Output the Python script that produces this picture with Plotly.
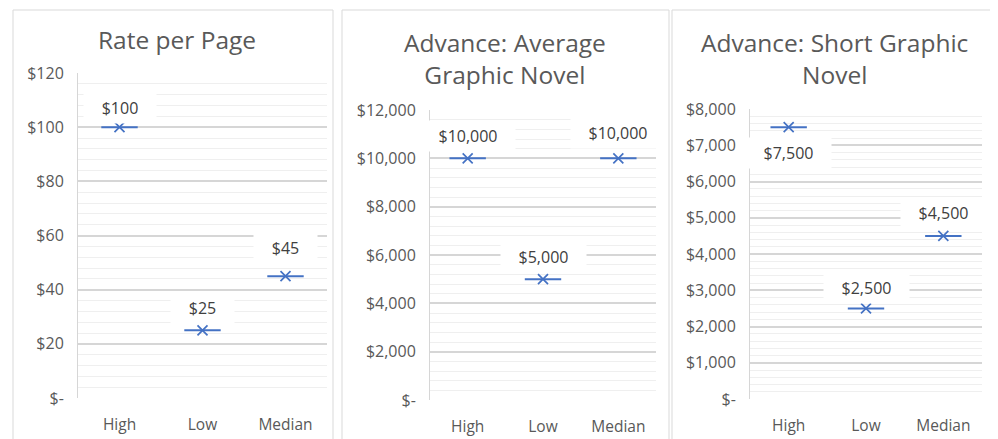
import plotly.graph_objects as go

# ---- data ----
categories = ["High", "Low", "Median"]
rate_per_page = [100, 25, 45]
advance_average = [10000, 5000, 10000]
advance_short = [7500, 2500, 4500]

rate_ticks = [0, 20, 40, 60, 80, 100, 120]
rate_ticktext = ["$-", "$20", "$40", "$60", "$80", "$100", "$120"]
avg_ticks = [0, 2000, 4000, 6000, 8000, 10000, 12000]
avg_ticktext = ["$-", "$2,000", "$4,000", "$6,000", "$8,000", "$10,000", "$12,000"]
short_ticks = [0, 1000, 2000, 3000, 4000, 5000, 6000, 7000, 8000]
short_ticktext = ["$-", "$1,000", "$2,000", "$3,000", "$4,000", "$5,000", "$6,000", "$7,000", "$8,000"]

titles = ["Rate per Page", "Advance: Average<br>Graphic Novel", "Advance: Short Graphic<br>Novel"]

# ---- style / layout ----
OFF = 8                    # default page body margin
W, H = 998 - OFF, 439 - OFF
FONT = "Open Sans"
BLUE = "#4472C4"
GRAY_TXT = "#595959"
LABEL_TXT = "#404040"
MAJOR = "#D6D6D6"
MINOR = "#EFEFEF"


def fx(px):
    return (px - OFF) / W


def fy(py):
    return 1 - (py - OFF) / H


panels = [
    dict(vals=rate_per_page, ticks=rate_ticks, tt=rate_ticktext, rng=120, minor=4,
         px=(78, 327), py=(398, 73), box=(13, 333), title_x=177, title_y=39,
         shifts=[19, 22, 28]),
    dict(vals=advance_average, ticks=avg_ticks, tt=avg_ticktext, rng=12000, minor=400,
         px=(430, 656), py=(400, 110), box=(342, 669), title_x=505, title_y=58,
         shifts=[22, 22, 25]),
    dict(vals=advance_short, ticks=short_ticks, tt=short_ticktext, rng=8000, minor=200,
         px=(750, 982), py=(399, 109), box=(672, 994), title_x=834, title_y=58,
         shifts=[-26, 20, 23]),
]

fig = go.Figure()
annotations = []
shapes = []


def label_width(t):
    return 9 * sum(1 for c in t if c != ",") + 4 * t.count(",") + 34


for i, p in enumerate(panels, start=1):
    sfx = "" if i == 1 else str(i)
    xa, ya = "x" + sfx, "y" + sfx
    # dash part of the marker
    fig.add_trace(go.Scatter(
        x=categories, y=p["vals"], mode="markers", xaxis=xa, yaxis=ya,
        marker=dict(symbol="line-ew", size=26, line=dict(color=BLUE, width=2)),
        hoverinfo="skip", showlegend=False, cliponaxis=False))
    # x part of the marker
    fig.add_trace(go.Scatter(
        x=categories, y=p["vals"], mode="markers", xaxis=xa, yaxis=ya,
        marker=dict(symbol="x-thin", size=10, line=dict(color=BLUE, width=1.7)),
        showlegend=False, cliponaxis=False))

    x0, x1 = p["px"]
    yb, yt = p["py"]
    fig.layout["xaxis" + sfx] = dict(
        domain=[fx(x0), fx(x1)], anchor=ya, type="category", automargin=False,
        range=[-0.5, 2.5], showgrid=False, showline=False, zeroline=False,
        tickfont=dict(family=FONT, size=15.5, color=GRAY_TXT),
        ticks="", ticklabelstandoff=15, fixedrange=True)
    fig.layout["yaxis" + sfx] = dict(
        domain=[fy(yb), fy(yt)], anchor=xa, range=[0, p["rng"]], automargin=False,
        tickvals=p["ticks"], ticktext=p["tt"],
        showgrid=True, gridcolor=MAJOR, gridwidth=1.5,
        minor=dict(dtick=p["minor"], tick0=0, showgrid=True, gridcolor=MINOR, gridwidth=1),
        showline=True, linecolor=MAJOR, linewidth=1, zeroline=False,
        tickfont=dict(family=FONT, size=16, color=GRAY_TXT),
        ticks="", ticklabelstandoff=10, fixedrange=True)

    # panel border
    bx0, bx1 = p["box"]
    shapes.append(dict(type="rect", xref="paper", yref="paper",
                       x0=fx(bx0), x1=fx(bx1), y0=-0.1, y1=fy(10),
                       line=dict(color="#D9D9D9", width=1), fillcolor="rgba(0,0,0,0)",
                       layer="below"))
    # title
    annotations.append(dict(text=titles[i - 1], xref="paper", yref="paper",
                            x=fx(p["title_x"]), y=fy(p["title_y"]),
                            xanchor="center", yanchor="middle", showarrow=False,
                            font=dict(family=FONT, size=24.5, color=GRAY_TXT)))
    # data labels
    for c, v, s in zip(categories, p["vals"], p["shifts"]):
        t = "${:,}".format(v)
        annotations.append(dict(text=t, xref=xa, yref=ya, x=c, y=v, yshift=s,
                                showarrow=False, bgcolor="white",
                                width=label_width(t), height=28,
                                xanchor="center", yanchor="middle",
                                font=dict(family=FONT, size=16, color=LABEL_TXT)))

fig.update_layout(width=W, height=H, margin=dict(l=0, r=0, t=0, b=0),
                  paper_bgcolor="white", plot_bgcolor="white",
                  annotations=annotations, shapes=shapes, showlegend=False)

fig.write_html("out.html")
